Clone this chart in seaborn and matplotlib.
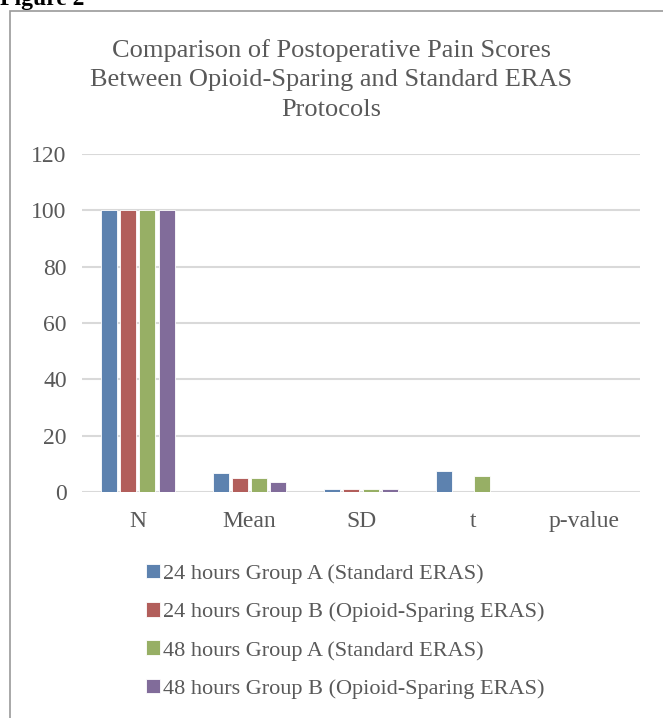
import pandas as pd
import numpy as np
import matplotlib
matplotlib.use("Agg")
import matplotlib.pyplot as plt
from matplotlib.patches import Rectangle
import seaborn as sns

# -----------------------------
# Data
# -----------------------------
statistics = ["N", "Mean", "SD", "t", "p-value"]
groups = [
    "24 hours Group A (Standard ERAS)",
    "24 hours Group B (Opioid-Sparing ERAS)",
    "48 hours Group A (Standard ERAS)",
    "48 hours Group B (Opioid-Sparing ERAS)",
]
h24_group_a = [100, 6.6, 1.1, 7.3, 0.001]
h24_group_b = [100, 4.8, 1.0, np.nan, np.nan]
h48_group_a = [100, 5.0, 1.0, 5.6, 0.001]
h48_group_b = [100, 3.5, 0.9, np.nan, np.nan]

colors = ["#4F81BD", "#C0504D", "#9BBB59", "#8064A2"]

rows = []
for grp, vals in zip(groups, [h24_group_a, h24_group_b, h48_group_a, h48_group_b]):
    for stat, v in zip(statistics, vals):
        rows.append({"statistic": stat, "group": grp, "value": v})
df = pd.DataFrame(rows)

# -----------------------------
# Plot
# -----------------------------
sns.set_theme(style="white")
plt.rcParams["font.family"] = ["Liberation Serif", "DejaVu Serif"]

fig = plt.figure(figsize=(6.63, 7.18), dpi=100)
ax = fig.add_axes([82 / 663, 1 - 492 / 718, (640 - 82) / 663, (492 - 154) / 718])

sns.barplot(data=df, x="statistic", y="value", hue="group", order=statistics,
            hue_order=groups, palette=colors, width=0.69, gap=0.17,
            edgecolor="white", linewidth=0.6, errorbar=None, ax=ax)

ax.set_ylim(0, 120)
ax.set_yticks(range(0, 121, 20))
ax.yaxis.grid(True, color="#D9D9D9", linewidth=1.5)
ax.set_axisbelow(True)
for s in ["top", "right", "left", "bottom"]:
    ax.spines[s].set_visible(False)
ax.tick_params(axis="both", length=0, labelsize=17, colors="#595959")
ax.tick_params(axis="y", pad=11)
ax.tick_params(axis="x", pad=14)
ax.set_xlabel("")
ax.set_ylabel("")

fig.text(0.5, 1 - 80 / 718,
         "Comparison of Postoperative Pain Scores\nBetween Opioid-Sparing and Standard ERAS\nProtocols",
         ha="center", va="center", fontsize=19, color="#595959", linespacing=1.43)

handles, labels = ax.get_legend_handles_labels()
ax.legend(handles, labels, loc="upper left", bbox_to_anchor=(126 / 663, 1 - 544 / 718),
          bbox_transform=fig.transFigure, frameon=False, fontsize=16,
          labelcolor="#595959", handlelength=0.62, handleheight=0.62,
          handletextpad=0.15, labelspacing=0.82)

# outer chart border and caption
fig.patches.append(Rectangle((9.5 / 663, -0.1), 1.2, 1 - 11 / 718 + 0.1,
                             transform=fig.transFigure, fill=False,
                             edgecolor="#9A9A9A", linewidth=1.2))
fig.text(0.0, 1 - 5 / 718, "Figure 2", ha="left", va="baseline",
         fontsize=17, fontweight="bold", color="black")

fig.savefig("out.png", dpi=100)
